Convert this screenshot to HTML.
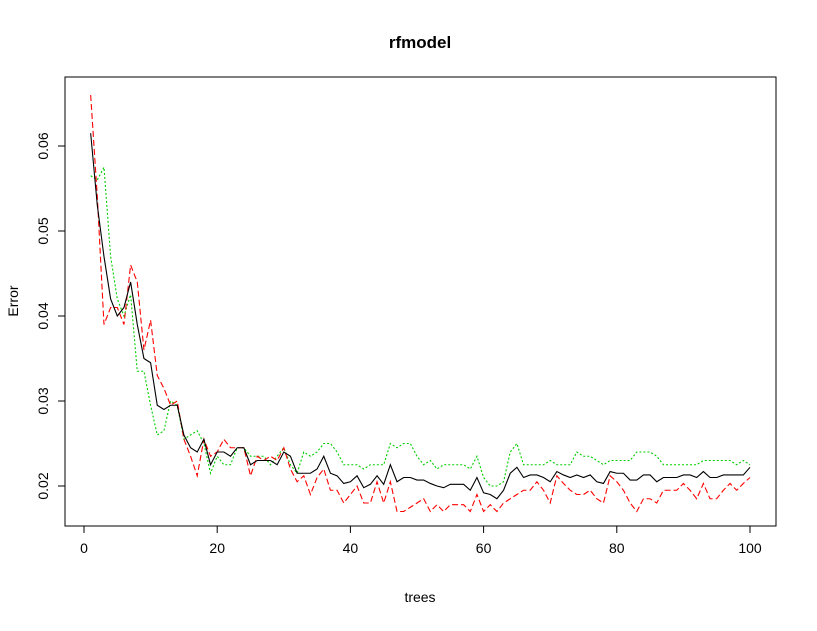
<!DOCTYPE html>
<html><head><meta charset="utf-8"><style>
body{margin:0;background:#fff}
svg text{font-family:"Liberation Sans",Arial,sans-serif}
</style></head><body>
<svg id="chart" width="817" height="626" xmlns="http://www.w3.org/2000/svg">
<rect width="817" height="626" fill="#fff"/>
<text x="420" y="48" text-anchor="middle" font-size="17" font-weight="bold">rfmodel</text>
<rect x="65" y="77" width="711" height="449" fill="none" stroke="#000"/>
<text x="420" y="602" text-anchor="middle" font-size="14">trees</text>
<text transform="translate(18,301) rotate(-90)" text-anchor="middle" font-size="14">Error</text>
<g id="axes"></g>
<g id="series"></g>
</svg>
<script>
const xTicks=[0,20,40,60,80,100];
const yTicks=[0.02,0.03,0.04,0.05,0.06];
const yTickLabels=["0.02","0.03","0.04","0.05","0.06"];
const oob=[0.0615,0.053,0.047,0.042,0.040,0.041,0.044,0.039,0.035,0.0345,0.0295,0.029,0.0295,0.0295,0.026,0.0245,0.024,0.0255,0.0225,0.024,0.024,0.0235,0.0245,0.0245,0.0225,0.023,0.023,0.023,0.0225,0.024,0.0235,0.0215,0.0215,0.0215,0.022,0.0235,0.0215,0.0212,0.0203,0.0205,0.0212,0.0198,0.0202,0.0212,0.0202,0.0225,0.0205,0.021,0.021,0.0207,0.0207,0.0203,0.02,0.0198,0.0202,0.0202,0.0202,0.0195,0.021,0.0192,0.019,0.0185,0.0195,0.0215,0.0222,0.021,0.0213,0.0213,0.021,0.0205,0.0217,0.0213,0.021,0.0213,0.021,0.0213,0.0205,0.0203,0.0217,0.0215,0.0215,0.0207,0.0207,0.0213,0.0213,0.0205,0.021,0.021,0.021,0.0213,0.0213,0.021,0.0217,0.021,0.021,0.0213,0.0213,0.0213,0.0213,0.0222];
const cls1=[0.066,0.054,0.039,0.041,0.041,0.039,0.046,0.044,0.036,0.0395,0.033,0.0315,0.0295,0.030,0.0255,0.0235,0.0212,0.0255,0.0235,0.024,0.0255,0.0245,0.0245,0.0245,0.0212,0.0235,0.023,0.0235,0.023,0.0245,0.022,0.0205,0.0212,0.019,0.021,0.022,0.0195,0.0195,0.018,0.019,0.020,0.018,0.018,0.0205,0.018,0.0205,0.017,0.017,0.0175,0.018,0.0185,0.017,0.0178,0.017,0.0178,0.0178,0.0178,0.017,0.019,0.017,0.0178,0.017,0.018,0.0185,0.019,0.0195,0.0195,0.0205,0.0195,0.018,0.0212,0.0203,0.0195,0.019,0.019,0.0195,0.0185,0.018,0.0212,0.0205,0.0195,0.018,0.017,0.0185,0.0185,0.018,0.0195,0.0195,0.0195,0.0203,0.0195,0.0185,0.0203,0.0185,0.0185,0.0195,0.0203,0.0195,0.0203,0.021];
const cls2=[0.0565,0.056,0.0575,0.047,0.042,0.040,0.0425,0.0335,0.0335,0.0295,0.026,0.0265,0.030,0.0295,0.0255,0.026,0.0265,0.025,0.0215,0.0235,0.0225,0.0225,0.0245,0.0245,0.0235,0.0235,0.0235,0.0225,0.0235,0.0245,0.0225,0.0215,0.024,0.0235,0.024,0.025,0.025,0.024,0.0225,0.0225,0.0225,0.022,0.0225,0.0225,0.0225,0.025,0.0245,0.025,0.025,0.0235,0.0225,0.023,0.022,0.0225,0.0225,0.0225,0.0225,0.022,0.0235,0.021,0.020,0.020,0.0205,0.024,0.025,0.0225,0.0225,0.0225,0.0225,0.023,0.0225,0.0225,0.0225,0.024,0.0235,0.0235,0.023,0.0225,0.023,0.023,0.023,0.023,0.024,0.024,0.024,0.0235,0.0225,0.0225,0.0225,0.0225,0.0225,0.0225,0.023,0.023,0.023,0.023,0.023,0.0225,0.023,0.0225];
const NS="http://www.w3.org/2000/svg";
function xs(v){return 84+v*6.66;}
function ys(v){return 486-(v-0.02)*8500;}
function mk(t,a,p){const e=document.createElementNS(NS,t);for(const k in a)e.setAttribute(k,a[k]);p.appendChild(e);return e;}
const ax=document.getElementById('axes');
const xl=mk('line',{x1:xs(0),x2:xs(100),y1:526,y2:526,stroke:'#000'},ax);


xTicks.forEach(v=>{
 const l=mk('line',{x1:xs(v),x2:xs(v),y1:526,y2:533,stroke:'#000'},ax);
 
 
 const t=mk('text',{x:xs(v),y:553,'text-anchor':'middle','font-size':14},ax);t.textContent=v;
 
 
});
yTicks.forEach((v,i)=>{
 const l=mk('line',{x1:58,x2:65,y1:ys(v),y2:ys(v),stroke:'#000'},ax);
 
 
 const t=mk('text',{transform:`translate(48,${ys(v)}) rotate(-90)`,'text-anchor':'middle','font-size':14},ax);t.textContent=yTickLabels[i];
 
 
});
const sg=document.getElementById('series');
function line(d,color,dash,name){
 const p=mk('polyline',{points:d.map((v,i)=>xs(i+1)+','+ys(v)).join(' '),fill:'none',stroke:color,'stroke-width':1.1,'stroke-dasharray':dash},sg);
 
 
}
line(cls2,'#00cd00','2 2','class2-error-line');
line(cls1,'#ff0000','6 3','class1-error-line');
line(oob,'#000','none','oob-error-line');
</script>
</body></html>
